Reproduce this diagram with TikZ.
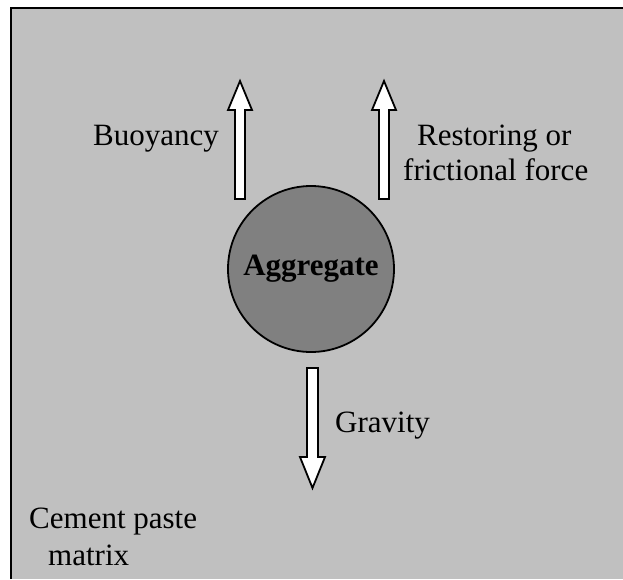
\documentclass[tikz,border=0pt]{standalone}
\usepackage{fontspec}
\setmainfont{Liberation Serif}
\definecolor{matrixgray}{HTML}{C0C0C0}
\definecolor{agggray}{HTML}{808080}
\tikzset{
  lbl/.style={inner sep=0pt, anchor=base west, font=\fontsize{31}{36}\selectfont},
  forcearrow/.style={draw=black, fill=white, line width=1.8pt, line join=miter},
}
\begin{document}
\begin{tikzpicture}[x=1pt,y=-1pt]
\useasboundingbox (0,0) rectangle (623,579);
\fill[white] (0,0) rectangle (623,579);
% matrix
\fill[matrixgray] (11,8) rectangle (623,579);
\draw[line width=2.2pt] (11,579) -- (11,8) -- (623,8);
% aggregate
\node[circle, draw=black, line width=1.8pt, fill=agggray, minimum size=166pt, inner sep=0pt] (agg) at (311,269) {};
\node[inner sep=0pt, anchor=base, font=\fontsize{31}{36}\selectfont\bfseries] (aggtxt) at (311,275) {Aggregate};
% buoyancy arrow
\filldraw[forcearrow] (235,199) -- (235,110) -- (228,110) -- (240,81) -- (252,110) -- (245,110) -- (245,199) -- cycle;
% restoring arrow
\filldraw[forcearrow] (379,199) -- (379,110) -- (372,110) -- (384,81) -- (396,110) -- (389,110) -- (389,199) -- cycle;
% gravity arrow
\filldraw[forcearrow] (307,368) -- (318,368) -- (318,457) -- (325,457) -- (312.5,488) -- (300,457) -- (307,457) -- cycle;
% labels
\node[lbl] (buoy) at (93,145) {Buoyancy};
\node[lbl] (rest1) at (417,145) {Restoring or};
\node[lbl] (rest2) at (403,180) {frictional force};
\node[lbl] (grav) at (335,432) {Gravity};
\node[lbl] (cem1) at (29,528) {Cement paste};
\node[lbl] (cem2) at (48,565) {matrix};
\end{tikzpicture}
\end{document}
